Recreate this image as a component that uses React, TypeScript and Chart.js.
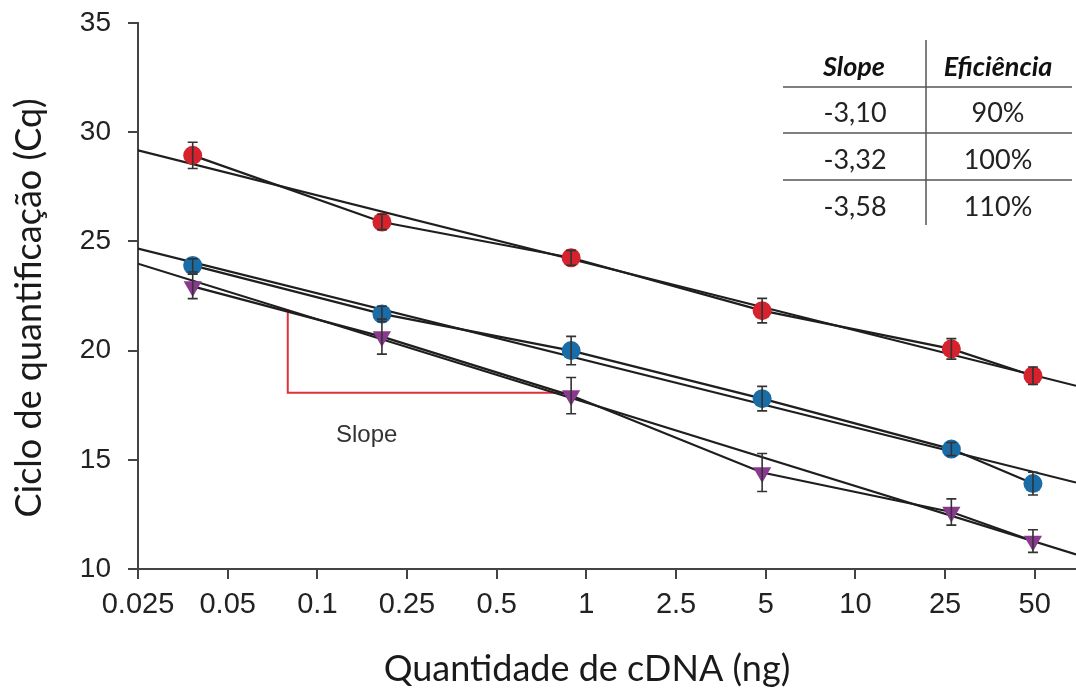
import React, { useEffect, useRef } from 'react';
import { Chart, registerables } from 'chart.js';

Chart.register(...registerables);

// ---- data ----
const xTickLabels = ['0.025', '0.05', '0.1', '0.25', '0.5', '1', '2.5', '5', '10', '25', '50'];
// x positions of the measured samples, in axis (tick-index) units
const samplePositions = [0.61, 2.72, 4.83, 6.96, 9.07, 9.98];

const redCq = [28.94, 25.89, 24.25, 21.83, 20.08, 18.85];
const redErr = [0.6, 0.35, 0.34, 0.56, 0.47, 0.4];
const blueCq = [23.9, 21.68, 20.0, 17.8, 15.49, 13.91];
const blueErr = [0.3, 0.35, 0.65, 0.56, 0.3, 0.52];
const purpleCq = [22.94, 20.64, 17.94, 14.42, 12.61, 11.28];
const purpleErr = [0.56, 0.8, 0.83, 0.87, 0.6, 0.52];

// regression lines: value at left edge and right edge of the axis
const fitX = [0, 10.46];
const redFit = [29.17, 18.39];
const blueFit = [24.67, 13.96];
const purpleFit = [23.98, 10.67];

// red "slope" guide
const slopeGuideX = [1.67, 1.67, 4.83];
const slopeGuideY = [21.76, 18.07, 18.07];
const slopeLabel = 'Slope';

const yTicks = [10, 15, 20, 25, 30, 35];

const tableHeaders = ['Slope', 'Eficiência'];
const tableSlopes = ['-3,10', '-3,32', '-3,58'];
const tableEfficiency = ['90%', '100%', '110%'];

const xTitle = 'Quantidade de cDNA (ng)';
const yTitle = 'Ciclo de quantificação (Cq)';

const RED = '#d5222c';
const BLUE = '#1a6ca6';
const PURPLE = '#8a3a8e';
const LINE = '#1e1e1e';
const AXIS = '#444444';

const pts = (xs: number[], ys: number[]) => xs.map((x, i) => ({ x, y: ys[i] }));

const errorSeries = [
  { values: redCq, err: redErr },
  { values: blueCq, err: blueErr },
  { values: purpleCq, err: purpleErr },
];

const extrasPlugin = {
  id: 'extras',
  afterDatasetsDraw(chart: any) {
    const { ctx, scales } = chart;
    const x = scales.x;
    const y = scales.y;
    ctx.save();
    ctx.strokeStyle = '#333';
    ctx.lineWidth = 1.6;
    errorSeries.forEach((s) => {
      s.values.forEach((v, i) => {
        const px = x.getPixelForValue(samplePositions[i]);
        const top = y.getPixelForValue(v + s.err[i]);
        const bot = y.getPixelForValue(v - s.err[i]);
        ctx.beginPath();
        ctx.moveTo(px, top);
        ctx.lineTo(px, bot);
        ctx.moveTo(px - 5, top);
        ctx.lineTo(px + 5, top);
        ctx.moveTo(px - 5, bot);
        ctx.lineTo(px + 5, bot);
        ctx.stroke();
      });
    });
    ctx.restore();
  },
  afterDraw(chart: any) {
    const { ctx } = chart;
    ctx.save();
    // slope label
    ctx.fillStyle = '#333';
    ctx.font = '24px "Liberation Sans", Arial, sans-serif';
    ctx.textAlign = 'left';
    ctx.textBaseline = 'alphabetic';
    ctx.fillText(slopeLabel, 336, 442);

    // axis titles
    ctx.fillStyle = '#1a1a1a';
    ctx.font = '36px Lato, "Open Sans", sans-serif';
    ctx.textAlign = 'center';
    ctx.fillText(xTitle, 587, 681);
    ctx.save();
    ctx.translate(41, 308);
    ctx.rotate(-Math.PI / 2);
    ctx.fillText(yTitle, 0, 0);
    ctx.restore();

    // table
    ctx.strokeStyle = '#555';
    ctx.lineWidth = 1.5;
    ctx.beginPath();
    ctx.moveTo(926, 40);
    ctx.lineTo(926, 225);
    [87, 133, 180].forEach((yy) => {
      ctx.moveTo(783, yy);
      ctx.lineTo(1072, yy);
    });
    ctx.stroke();

    ctx.fillStyle = '#111';
    ctx.textAlign = 'center';
    ctx.textBaseline = 'middle';
    ctx.font = 'italic bold 27px Lato, "Open Sans", sans-serif';
    ctx.fillText(tableHeaders[0], 854, 67);
    ctx.fillText(tableHeaders[1], 998, 67);
    ctx.font = '27px Lato, "Open Sans", sans-serif';
    ctx.fillStyle = '#222';
    const rowY = [113, 160, 207];
    tableSlopes.forEach((t, i) => ctx.fillText(t, 855, rowY[i]));
    tableEfficiency.forEach((t, i) => ctx.fillText(t, 998, rowY[i]));
    ctx.restore();
  },
};

export default function App() {
  const ref = useRef<HTMLCanvasElement | null>(null);
  useEffect(() => {
    if (!ref.current) return;
    const lineDs = (data: any[], order = 2) => ({
      type: 'line' as const,
      data,
      borderColor: LINE,
      borderWidth: 2.2,
      pointRadius: 0,
      showLine: true,
      fill: false,
      tension: 0,
      order,
    });
    const markerDs = (ys: number[], color: string, style: string, rotation = 0, radius = 8) => ({
      type: 'line' as const,
      data: pts(samplePositions, ys),
      showLine: false,
      pointStyle: style,
      pointRotation: rotation,
      pointRadius: radius,
      pointBackgroundColor: color,
      pointBorderColor: color,
      pointBorderWidth: 0,
      order: 0,
    });
    const chart = new Chart(ref.current, {
      type: 'line',
      data: {
        datasets: [
          lineDs(pts(fitX, redFit)),
          lineDs(pts(fitX, blueFit)),
          lineDs(pts(fitX, purpleFit)),
          lineDs(pts(samplePositions, redCq)),
          lineDs(pts(samplePositions, blueCq)),
          lineDs(pts(samplePositions, purpleCq)),
          {
            type: 'line',
            data: pts(slopeGuideX, slopeGuideY),
            borderColor: '#e0303a',
            borderWidth: 2,
            pointRadius: 0,
            tension: 0,
            order: 3,
          },
          markerDs(redCq, RED, 'circle', 0, 9.5),
          markerDs(blueCq, BLUE, 'circle', 0, 9.5),
          markerDs(purpleCq, PURPLE, 'triangle', 180, 10.5),
        ] as any,
      },
      options: {
        responsive: false,
        animation: false,
        layout: { autoPadding: false, padding: { top: 23, right: 0, left: 0, bottom: 0 } },
        plugins: { legend: { display: false }, tooltip: { enabled: false }, title: { display: false } },
        scales: {
          x: {
            type: 'linear',
            min: 0,
            max: 10.46,
            afterBuildTicks: (scale: any) => {
              scale.ticks = xTickLabels.map((_, i) => ({ value: i }));
            },
            afterFit: (scale: any) => {
              scale.height = 121;
              scale.paddingLeft = 0;
              scale.paddingRight = 0;
            },
            ticks: {
              autoSkip: false,
              maxRotation: 0,
              padding: 9,
              color: '#222',
              font: { family: '"Liberation Sans", Arial, sans-serif', size: 29 },
              callback: (_v: any, i: number) => xTickLabels[i],
            },
            grid: { drawOnChartArea: false, drawTicks: true, tickLength: 10, color: AXIS, lineWidth: 2 },
            border: { display: true, color: AXIS, width: 2 },
          },
          y: {
            type: 'linear',
            min: 10,
            max: 35,
            afterBuildTicks: (scale: any) => {
              scale.ticks = yTicks.map((v) => ({ value: v }));
            },
            afterFit: (scale: any) => {
              scale.width = 138;
              scale.paddingTop = 0;
              scale.paddingBottom = 0;
            },
            ticks: {
              padding: 17,
              color: '#222',
              font: { family: '"Liberation Sans", Arial, sans-serif', size: 28 },
            },
            grid: { drawOnChartArea: false, drawTicks: true, tickLength: 10, color: AXIS, lineWidth: 2 },
            border: { display: true, color: AXIS, width: 2 },
          },
        },
      } as any,
      plugins: [extrasPlugin],
    });
    return () => chart.destroy();
  }, []);
  return (
    <div style={{ position: 'absolute', left: 0, top: 0, width: 1076, height: 690, background: '#fff' }}>
      <canvas ref={ref} width={1076} height={690} />
    </div>
  );
}
